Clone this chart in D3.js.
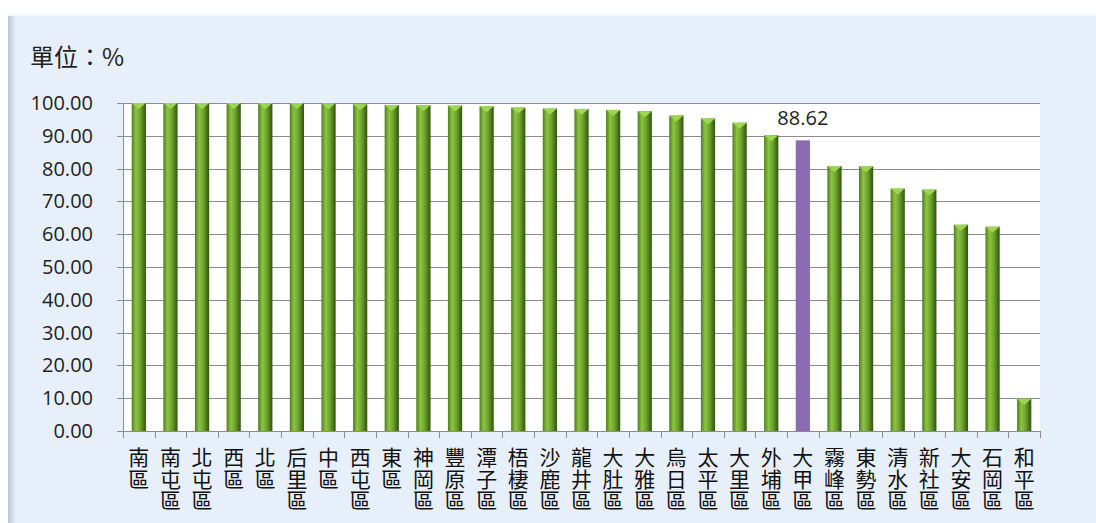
<!DOCTYPE html>
<html>
<head>
<meta charset="utf-8">
<script src="https://cdn.jsdelivr.net/npm/d3@7"></script>
<style>
  body { margin: 0; background: #fff; }
  svg { display: block; }
</style>
</head>
<body>
<script>
// districts and their rates (%)
var districts = ["南區","南屯區","北屯區","西區","北區","后里區","中區","西屯區","東區","神岡區",
  "豐原區","潭子區","梧棲區","沙鹿區","龍井區","大肚區","大雅區","烏日區","太平區","大里區",
  "外埔區","大甲區","霧峰區","東勢區","清水區","新社區","大安區","石岡區","和平區"]
var rates = [100, 100, 100, 100, 100, 100, 99.9, 99.6, 99.4, 99.3,
  99.2, 99.0, 98.6, 98.3, 98.2, 97.9, 97.5, 96.2, 95.3, 94.0,
  90.2, 88.62, 80.8, 80.7, 73.9, 73.6, 62.9, 62.3, 9.8]
var highlight = "大甲區"
var yTicks = [0, 10, 20, 30, 40, 50, 60, 70, 80, 90, 100]

var width = 1096, height = 523
var margin = {top: 103, left: 123, right: 56, bottom: 92}

var svg = d3.select("body").append("svg")
  .attr("width", width)
  .attr("height", height)

var defs = svg.append("defs")
var g1 = defs.append("linearGradient").attr("id", "bar").attr("x1", 0).attr("x2", 1)
g1.append("stop").attr("offset", "0%").attr("stop-color", "#4f7f1c")
g1.append("stop").attr("offset", "30%").attr("stop-color", "#8cc443")
g1.append("stop").attr("offset", "60%").attr("stop-color", "#6ea32c")
g1.append("stop").attr("offset", "100%").attr("stop-color", "#2f5410")
var g2 = defs.append("linearGradient").attr("id", "panelShade").attr("x1", 0).attr("x2", 1)
g2.append("stop").attr("offset", "0%").attr("stop-color", "#b9c7d6")
g2.append("stop").attr("offset", "100%").attr("stop-color", "#e7f0fa")

// panel
svg.append("rect").attr("x", 8).attr("y", 13).attr("width", width - 8).attr("height", height - 13)
  .attr("fill", "#e7f0fa")
svg.append("rect").attr("x", 8).attr("y", 13).attr("width", 8).attr("height", height - 13)
  .attr("fill", "url(#panelShade)")
svg.append("rect").attr("x", 8).attr("y", 13).attr("width", width - 8).attr("height", 3)
  .attr("fill", "#f4f8fc")

svg.append("text")
  .attr("x", 30).attr("y", 66)
  .attr("font-family", "'Noto Sans CJK TC', sans-serif")
  .attr("font-size", 24)
  .attr("fill", "#222")
  .text("單位：%")

var x = d3.scaleBand()
  .domain(districts)
  .range([margin.left, width - margin.right])
  .paddingInner(0.55)
  .paddingOuter(0.275)

var y = d3.scaleLinear()
  .domain([0, 100])
  .range([height - margin.bottom, margin.top])

// plot area
svg.append("rect")
  .attr("x", margin.left).attr("y", margin.top)
  .attr("width", width - margin.right - margin.left)
  .attr("height", height - margin.bottom - margin.top)
  .attr("fill", "#fff")

svg.append("g")
  .selectAll("line")
  .data(yTicks)
  .enter().append("line")
  .attr("x1", margin.left - 6).attr("x2", width - margin.right)
  .attr("y1", function(d){ return Math.round(y(d)) + 0.5 })
  .attr("y2", function(d){ return Math.round(y(d)) + 0.5 })
  .attr("stroke", "#8c8c8c")

svg.append("line")
  .attr("x1", margin.left + 0.5).attr("x2", margin.left + 0.5)
  .attr("y1", margin.top).attr("y2", y(0))
  .attr("stroke", "#8c8c8c")

// category boundary ticks under the axis
var step = x.step()
var bounds = d3.range(districts.length + 1).map(function(i){ return margin.left + i * step })
svg.append("g")
  .selectAll("line")
  .data(bounds)
  .enter().append("line")
  .attr("x1", function(d){ return Math.round(d) + 0.5 })
  .attr("x2", function(d){ return Math.round(d) + 0.5 })
  .attr("y1", y(0)).attr("y2", y(0) + 7)
  .attr("stroke", "#8c8c8c")

svg.append("g")
  .selectAll("text")
  .data(yTicks)
  .enter().append("text")
  .attr("x", 93)
  .attr("y", function(d){ return y(d) + 7 })
  .attr("text-anchor", "end")
  .attr("font-family", "'Open Sans', sans-serif")
  .attr("font-size", 20)
  .attr("fill", "#222")
  .text(function(d){ return d3.format(".2f")(d) })

// bars
var data = districts.map(function(d, i){ return {name: d, value: rates[i]} })
var bars = svg.append("g").selectAll("g").data(data).enter().append("g")

bars.append("rect")
  .attr("x", function(d){ return x(d.name) })
  .attr("y", function(d){ return y(d.value) })
  .attr("width", x.bandwidth())
  .attr("height", function(d){ return y(0) - y(d.value) })
  .attr("fill", function(d){ return d.name === highlight ? "#8b6bb1" : "url(#bar)" })

bars.filter(function(d){ return d.name !== highlight })
  .append("path")
  .attr("d", function(d){
    var x0 = x(d.name), w = x.bandwidth(), t = y(d.value)
    return "M" + x0 + "," + t + "L" + (x0 + w) + "," + t + "L" + (x0 + w / 2) + "," + (t + 6) + "Z"
  })
  .attr("fill", "#9fd552")

svg.append("text")
  .datum(data.filter(function(d){ return d.name === highlight })[0])
  .attr("x", function(d){ return x(d.name) + x.bandwidth() / 2 })
  .attr("y", function(d){ return y(d.value) - 15 })
  .attr("text-anchor", "middle")
  .attr("font-family", "'Open Sans', sans-serif")
  .attr("font-size", 20)
  .attr("fill", "#222")
  .text(function(d){ return d.value.toFixed(2) })

// vertical category labels, one character per line
var labels = svg.append("g").selectAll("text").data(districts).enter().append("text")
  .attr("text-anchor", "middle")
  .attr("font-family", "'Noto Sans CJK TC', sans-serif")
  .attr("font-size", 21)
  .attr("fill", "#111")
labels.selectAll("tspan")
  .data(function(d){ return d.split("").map(function(c){ return {c: c, n: d} }) })
  .enter().append("tspan")
  .attr("x", function(d){ return x(d.n) + x.bandwidth() / 2 })
  .attr("y", function(d, i){ return 465 + i * 21.5 })
  .text(function(d){ return d.c })
</script>
</body>
</html>
